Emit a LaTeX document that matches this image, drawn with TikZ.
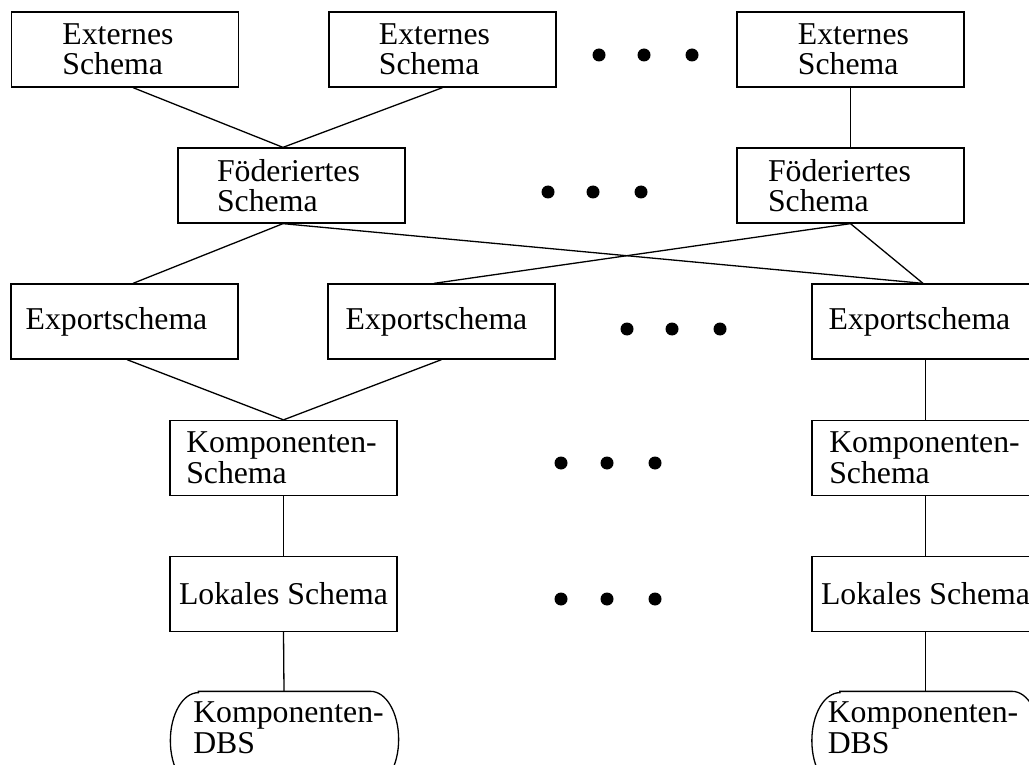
\documentclass[tikz,border=0pt]{standalone}
\usepackage{fontspec}
\setmainfont{Liberation Serif}
\newcommand\schemafont{\fontsize{31.75}{30.5}\selectfont}
\tikzset{
  box/.style={draw, rectangle, minimum width=227, minimum height=75, inner sep=0},
  dbsbox/.style={rectangle, minimum width=227, minimum height=96, inner sep=0},
  lbl/.style={align=left, font=\schemafont, inner sep=0},
  link/.style={draw, line width=1.3pt},
  dot/.style={circle, fill=black, minimum size=13, inner sep=0},
}
% outline of a database node: flat top and bottom, elliptical ends
\newcommand\dbsoutline[1]{%
  \draw ([xshift=28pt]#1.north west) -- ([xshift=-28pt]#1.north east)
    arc[start angle=90, end angle=0, x radius=28pt, y radius=48pt]
    arc[start angle=0, end angle=-90, x radius=28pt, y radius=48pt]
    -- ([xshift=28pt]#1.south west)
    arc[start angle=270, end angle=180, x radius=28pt, y radius=48pt]
    arc[start angle=180, end angle=90, x radius=28pt, y radius=48pt]
    -- cycle;}
\begin{document}
\begin{tikzpicture}[x=1pt, y=-1pt, line width=1.3pt]
\useasboundingbox (0,0) rectangle (1029,765);
\clip (0,0) rectangle (1029,765);

% external schemas
\node[box] (ext1) at (125,49.5) {};
\node[lbl, xshift=-7] (ext1t) at (ext1) {Externes\\Schema};
\node[box] (ext2) at (442.5,49.5) {};
\node[lbl, xshift=-8] (ext2t) at (ext2) {Externes\\Schema};
\node[box] (ext3) at (850.5,49.5) {};
\node[lbl, xshift=3] (ext3t) at (ext3) {Externes\\Schema};

% federated schemas
\node[box] (fed1) at (291.5,185.5) {};
\node[lbl, xshift=-3] (fed1t) at (fed1) {Föderiertes\\Schema};
\node[box] (fed2) at (850.5,185.5) {};
\node[lbl, xshift=-11] (fed2t) at (fed2) {Föderiertes\\Schema};

% export schemas
\node[box] (exp1) at (124.5,321.5) {};
\node[lbl, xshift=-8] (exp1t) at (exp1) {Exportschema};
\node[box] (exp2) at (441.5,321.5) {};
\node[lbl, xshift=-5] (exp2t) at (exp2) {Exportschema};
\node[box] (exp3) at (925.5,321.5) {};
\node[lbl, xshift=-6] (exp3t) at (exp3) {Exportschema};

% component schemas
\node[box] (komp1) at (283.5,458) {};
\node[lbl, xshift=-2] (komp1t) at (komp1) {Komponenten-\\Schema};
\node[box] (komp2) at (925.5,458) {};
\node[lbl, xshift=-1] (komp2t) at (komp2) {Komponenten-\\Schema};

% local schemas
\node[box] (lok1) at (283.5,594) {};
\node[lbl] (lok1t) at (lok1) {Lokales Schema};
\node[box] (lok2) at (925.5,594) {};
\node[lbl] (lok2t) at (lok2) {Lokales Schema};

% component database systems
\node[dbsbox] (dbs1) at (284.5,740) {};
\dbsoutline{dbs1}
\node[lbl, xshift=4, yshift=12] (dbs1t) at (dbs1) {Komponenten-\\DBS};
\node[dbsbox] (dbs2) at (926,740) {};
\dbsoutline{dbs2}
\node[lbl, xshift=-3, yshift=12] (dbs2t) at (dbs2) {Komponenten-\\DBS};

% ellipses
\foreach \px/\py [count=\i] in {599/55, 644/55, 692/55,
                                 548/192, 593/192, 641/192,
                                 627/329, 672/329, 720/329,
                                 561/463, 607/463, 655/463,
                                 561/599, 607/599, 655/599}
  \node[dot] (d\i) at (\px,\py) {};

% connections
\draw[link] ([xshift=8]ext1.south) -- ([xshift=-8.5]fed1.north);
\draw[link] (ext2.south) -- ([xshift=-8.5]fed1.north);
\draw[link] (ext3.south) -- (fed2.north);

\draw[link] ([xshift=-8.5]fed1.south) -- ([xshift=8.5]exp1.north);
\draw[link] ([xshift=-8.5]fed1.south) -- ([xshift=-2.5]exp3.north);
\draw[link] (fed2.south) -- ([xshift=-7.5]exp2.north);
\draw[link] (fed2.south) -- ([xshift=-2.5]exp3.north);

\draw[link] ([xshift=2.5]exp1.south) -- (komp1.north);
\draw[link] (exp2.south) -- (komp1.north);
\draw[link] (exp3.south) -- (komp2.north);

\draw[link] (komp1.south) -- (lok1.north);
\draw[link] (lok1.south) -- ([xshift=-0.5]dbs1.north);
\draw[link] (komp2.south) -- (lok2.north);
\draw[link] (lok2.south) -- ([xshift=-0.5]dbs2.north);
\end{tikzpicture}
\end{document}
